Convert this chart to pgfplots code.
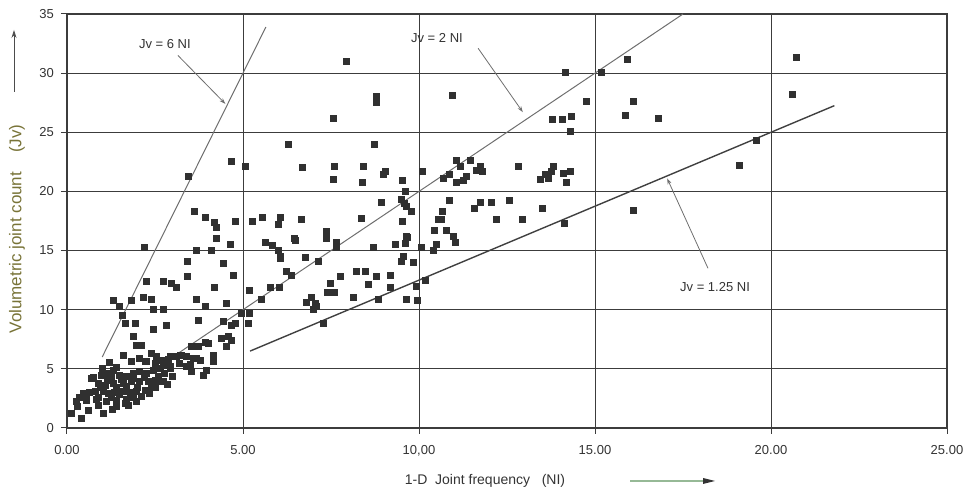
\documentclass[border=0pt]{standalone}
\usepackage{fontspec}
\setmainfont{Liberation Sans}
\usepackage{pgfplots}
\pgfplotsset{compat=1.18}
\usetikzlibrary{arrows.meta}
\definecolor{pt}{RGB}{48,48,48}
\definecolor{gridc}{RGB}{60,60,60}
\definecolor{olivec}{RGB}{120,115,55}
\definecolor{linec}{RGB}{110,110,110}

\pgfplotstableread{
x y
7.95 31.0
8.78 28.0
8.78 27.5
7.56 26.2
8.72 24.0
10.96 28.1
14.17 30.1
15.17 30.1
15.93 31.2
14.76 27.6
16.08 27.6
13.79 26.1
14.07 26.1
14.34 26.3
14.29 25.1
15.86 26.4
16.8 26.2
20.73 31.3
20.61 28.2
19.59 24.3
19.1 22.2
6.29 24.0
3.45 21.3
4.68 22.5
5.06 22.1
6.68 22.0
7.61 22.1
8.42 22.1
7.57 21.0
8.40 20.8
9.05 21.7
8.99 21.4
9.54 20.9
9.6 20.0
10.1 21.7
11.05 22.6
11.18 22.1
11.45 22.6
10.69 21.1
10.86 21.4
11.05 20.8
11.26 20.9
11.35 21.3
11.62 21.8
11.73 22.1
11.81 21.7
12.82 22.1
13.82 22.1
13.77 21.7
13.58 21.4
13.44 21.0
13.67 21.1
14.1 21.5
14.29 21.7
14.2 20.8
9.51 19.3
9.58 19.0
9.65 18.7
9.79 18.3
8.92 19.1
8.37 17.7
6.67 17.6
7.38 16.6
7.38 16.0
9.53 17.5
9.65 16.2
10.86 19.2
10.67 18.3
10.55 17.6
10.64 17.6
10.45 16.7
10.78 16.7
10.99 16.2
11.02 15.7
11.56 18.6
11.73 19.1
12.07 19.1
12.56 19.2
12.2 17.6
12.95 17.6
13.5 18.6
14.13 17.3
16.09 18.4
3.62 18.3
3.92 17.8
4.2 17.4
4.25 17.0
4.77 17.5
5.27 17.5
5.56 17.8
6.05 17.8
6.0 17.2
4.25 16.0
4.65 15.5
2.2 15.3
3.68 15.0
4.09 15.0
3.42 14.1
4.44 13.9
4.73 12.9
3.42 12.8
2.26 12.4
2.74 12.4
2.97 12.2
3.12 11.9
4.2 11.9
5.18 11.6
5.77 11.9
6.03 11.9
5.65 15.7
5.84 15.4
6.0 15.0
6.05 14.5
6.07 14.3
6.48 15.9
6.24 13.2
6.38 12.9
1.32 10.8
1.84 10.8
2.17 11.0
2.41 10.9
3.68 10.9
3.92 10.3
4.54 10.5
5.53 10.9
6.45 16.0
7.66 15.7
7.66 15.3
8.7 15.3
9.34 15.5
9.62 15.6
9.67 16.1
10.07 15.3
10.4 15.0
10.5 15.5
6.76 14.4
7.13 14.1
9.55 14.5
9.51 14.1
9.84 14.0
7.76 12.8
8.23 13.2
8.47 13.2
8.8 12.8
9.18 12.9
8.56 12.1
9.18 11.9
9.93 12.0
10.17 12.45
7.47 12.2
7.4 11.5
7.61 11.5
5.51 10.9
8.13 11.0
8.84 10.9
9.65 10.9
9.95 10.8
6.79 10.6
6.95 11.0
7.07 10.5
7.0 10.0
7.09 10.3
7.28 8.85
4.96 9.7
5.18 9.7
5.15 8.85
1.49 10.3
1.58 9.55
2.45 10.0
2.74 10.0
1.65 8.85
1.93 8.85
2.45 8.34
2.81 8.7
1.88 7.72
1.98 6.96
2.12 6.96
3.73 9.13
4.44 9.0
4.68 8.7
4.77 8.85
4.39 7.58
4.58 7.72
4.68 7.44
4.54 6.87
4.16 6.17
4.16 5.6
3.54 6.93
3.73 6.87
3.92 7.21
4.01 7.16
3.4 6.03
3.59 5.89
3.8 5.75
3.4 5.18
3.54 4.76
3.87 4.48
3.97 4.9
2.93 6.03
3.21 6.17
2.55 6.03
2.69 5.75
2.88 5.8
2.26 5.6
2.5 5.47
2.74 5.33
2.93 5.18
1.6 6.17
1.2 5.52
0.70 4.2
0.99 4.48
1.13 4.62
1.27 4.34
1.5 4.48
1.7 4.4
1.88 4.62
2.07 4.76
2.26 4.62
2.45 4.9
2.64 5.04
2.78 4.62
2.93 5.04
2.74 3.91
1.32 3.78
1.6 3.78
1.84 3.91
2.07 3.91
2.31 3.91
2.5 4.06
2.69 3.91
0.46 2.93
0.65 2.98
0.8 3.07
1.03 3.07
1.17 2.93
1.36 2.98
1.6 3.07
1.79 2.98
1.98 3.07
2.22 3.16
0.28 2.22
0.56 2.37
0.84 2.43
1.13 2.22
1.41 2.37
1.7 2.43
1.98 2.22
0.6 1.52
1.03 1.24
0.13 1.24
0.42 0.82
1.41 1.8
1.65 2.09
3.26 6.17
3.68 5.89
0.75 4.29
1.32 4.9
1.84 5.6
2.22 5.6
3.12 6.03
0.3 1.8
0.55 2.7
0.9 2.6
1.25 2.6
1.5 2.8
1.9 2.6
2.1 2.7
2.4 3.4
2.0 3.4
1.7 3.5
1.4 3.4
1.1 3.6
0.9 3.8
2.2 4.3
1.9 4.2
1.55 4.1
1.15 4.0
2.6 4.4
3.0 4.4
3.2 5.5
3.5 5.4
2.4 6.3
2.05 5.9
1.4 5.1
1.0 5.0
0.95 3.4
2.85 3.7
2.5 3.4
0.35 2.6
1.3 1.6
0.9 1.9
2.35 2.9
1.75 1.9
}\pts

\begin{document}
\begin{tikzpicture}[font=\fontsize{6.5}{8}\selectfont]
\begin{axis}[name=ax, scale only axis, width=440pt, height=207pt,
  xmin=0, xmax=25, ymin=0, ymax=35,
  xtick={0,5,10,15,20,25},
  xticklabels={0.00,5.00,{10,00},15.00,20.00,25.00},
  ytick={0,5,10,15,20,25,30,35},
  yticklabels={0,5,10,15,20,25,30,35},
  xtick pos=bottom, ytick pos=left, tick align=outside,
  major tick length=3pt,
  grid=major,
  major grid style={gridc, line width=0.5pt},
  axis line style={gridc, line width=0.6pt},
  tick style={gridc, line width=0.5pt},
  tick label style={text=black!80, font=\fontsize{6.5}{8}\selectfont},
  xticklabel style={yshift=-2pt},
  clip=false]
\addplot[only marks, mark=square*, mark size=1.5pt, color=pt] table[x=x,y=y] {\pts};
\addplot[linec, line width=0.5pt] coordinates {(1.0,6.0) (5.65,33.9)};
\addplot[linec, line width=0.5pt] coordinates {(2.6,5.2) (17.5,35)};
\addplot[black!75, line width=0.7pt] coordinates {(5.2,6.5) (21.8,27.25)};
\node[text=black!80] at (axis cs:2.78,32.5) {Jv = 6 NI};
\draw[linec, line width=0.4pt, -{Stealth[length=3pt,width=2pt]}] (axis cs:3.15,31.5) -- (axis cs:4.5,27.4);
\node[text=black!80] at (axis cs:10.51,32.97) {Jv = 2 NI};
\draw[linec, line width=0.4pt, -{Stealth[length=3pt,width=2pt]}] (axis cs:11.68,32.1) -- (axis cs:12.95,26.7);
\node[text=black!80] at (axis cs:18.41,11.9) {Jv = 1.25 NI};
\draw[linec, line width=0.4pt, -{Stealth[length=3pt,width=2pt]}] (axis cs:18.21,13.5) -- (axis cs:17.05,21.1);
\end{axis}
\node[text=black!80, font=\fontsize{7}{8}\selectfont] at ([xshift=209pt,yshift=-26.5pt]ax.south west) {1-D\ \ Joint frequency\ \ \ (NI)};
\draw[color={rgb,255:red,150;green,185;blue,150}, line width=0.8pt] ([xshift=281.5pt,yshift=-26.5pt]ax.south west) -- ([xshift=320pt,yshift=-26.5pt]ax.south west);
\fill[black!80] ([xshift=318pt,yshift=-28pt]ax.south west) -- ([xshift=324pt,yshift=-26.5pt]ax.south west) -- ([xshift=318pt,yshift=-25pt]ax.south west) -- cycle;
\node[text=olivec, rotate=90, font=\fontsize{8.5}{10}\selectfont] at ([xshift=-25pt,yshift=99.5pt]ax.south west) {Volumetric joint count\ \ \ \ (Jv)};
\draw[black!70, line width=0.4pt, -{Stealth[length=4pt,width=2.5pt]}] ([xshift=-26.5pt,yshift=168pt]ax.south west) -- ([xshift=-26.5pt,yshift=199pt]ax.south west);
\pgfresetboundingbox
\path ([xshift=-33.5pt,yshift=-32.5pt]ax.south west) rectangle ([xshift=13pt,yshift=7pt]ax.north east);
\end{tikzpicture}
\end{document}
